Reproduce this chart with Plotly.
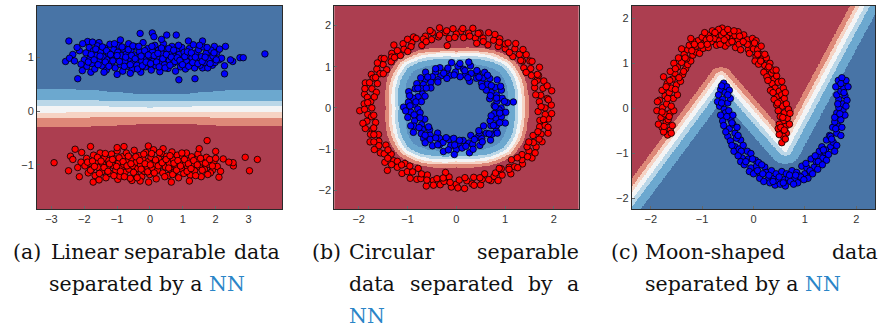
import numpy as np
import plotly.graph_objects as go

# ---------------- colours of decision-surface bands (red side -> blue side)
BAND_COLORS = ["#AC3E50", "#DE8878", "#F6D3C4", "#F3F4F5", "#BAD7E8", "#6CA8CF", "#5A8FC0", "#4874A6"]
RED_PT = "#FF0000"
BLUE_PT = "#0000FF"
LINK_BLUE = "#2A85C7"

# ---------------- panel (a): linear separable data
A_XRANGE = [-3.44, 4.02]
A_YRANGE = [-1.82, 1.95]
A_XTICKS = [-3, -2, -1, 0, 1, 2, 3]
A_YTICKS = [-1, 0, 1]
A_BOUND_X = [-3.5, -2.0, -1.0, 0.0, 1.0, 2.0, 3.0, 4.1]
A_BOUNDS = [  # band boundaries (y at A_BOUND_X), bottom (red) to top (blue)
    [-0.30, -0.29, -0.26, -0.24, -0.24, -0.26, -0.27, -0.27],
    [-0.13, -0.12, -0.11, -0.11, -0.11, -0.12, -0.12, -0.12],
    [-0.03, -0.02, -0.01, -0.01, -0.01, -0.01, -0.01, -0.01],
    [0.09, 0.09, 0.08, 0.07, 0.08, 0.09, 0.09, 0.09],
    [0.21, 0.21, 0.19, 0.18, 0.18, 0.19, 0.19, 0.19],
    [0.41, 0.40, 0.35, 0.31, 0.32, 0.37, 0.40, 0.40],
]
A_BAND_IDX = [0, 1, 2, 3, 4, 5, 7]
A_BLUE = [(-2.57,0.92),(-2.47,1.30),(-2.20,0.60),(-2.06,0.75),(-1.90,1.29),(-1.55,1.27),(-0.30,1.44),(0.07,1.45),
 (0.12,1.38),(0.51,1.41),(0.80,1.41),(1.17,1.30),(0.88,0.58),(1.37,0.60),(1.96,1.20),(2.30,1.20),(2.10,0.95),
 (2.27,0.84),(2.27,0.69),(2.52,0.92),(2.74,0.99),(2.84,0.99),(3.50,1.06),(-2.35,1.05),(-2.45,0.98),(-2.30,0.93),
 (-2.15,1.12),(-1.00,0.68),(-1.80,0.72),(2.45,0.95),(1.90,0.85),(1.75,1.05),(1.60,0.80),
 (-2.0,0.95),(-1.95,1.08),(-1.92,0.83),(-1.85,1.18),(-1.82,0.99),(-1.76,0.88),(-1.72,1.12),(-1.68,0.78),(-1.63,1.03),
 (-1.6,1.21),(-1.55,0.93),(-1.5,1.10),(-1.46,0.84),(-1.42,1.00),(-1.38,1.17),(-1.33,0.76),(-1.3,0.95),(-1.27,1.07),
 (-1.22,1.24),(-1.18,0.88),(-1.15,1.01),(-1.1,1.14),(-1.06,0.80),(-1.02,0.96),(-0.98,1.09),(-0.95,1.22),(-0.9,0.86),
 (-0.87,1.03),(-0.83,0.74),(-0.8,1.15),(-0.76,0.93),(-0.72,1.06),(-0.68,0.83),(-0.65,1.25),(-0.62,0.98),(-0.58,1.12),
 (-0.54,0.77),(-0.5,0.90),(-0.47,1.04),(-0.43,1.19),(-0.4,0.85),(-0.36,0.99),(-0.32,1.10),(-0.28,0.72),(-0.25,0.93),
 (-0.21,1.27),(-0.18,1.05),(-0.14,0.82),(-0.1,0.97),(-0.07,1.16),(-0.03,0.89),(0.0,1.02),(0.04,0.76),(0.08,1.10),
 (0.11,0.93),(0.15,1.22),(0.18,0.84),(0.22,1.00),(0.26,1.13),(0.3,0.73),(0.33,0.91),(0.37,1.06),(0.41,1.25),
 (0.44,0.86),(0.48,0.98),(0.52,1.14),(0.55,0.79),(0.59,0.94),(0.63,1.08),(0.67,1.20),(0.7,0.88),(0.74,1.02),
 (0.78,0.74),(0.81,1.12),(0.85,0.91),(0.89,1.05),(0.93,0.82),(0.97,1.18),(1.0,0.97),(1.04,1.09),(1.08,0.78),
 (1.12,0.92),(1.16,1.03),(1.2,1.16),(1.24,0.86),(1.28,0.99),(1.32,1.23),(1.36,0.80),(1.4,1.08),(1.44,0.94),
 (1.48,1.14),(1.53,0.85),(1.57,1.01),(1.62,1.19),(1.66,0.90),(1.71,1.07),(1.76,0.80),(1.8,0.97),(1.86,1.13),
 (1.92,1.02),(1.98,0.90),(2.04,1.09),(2.12,1.15),(2.18,0.98),(-2.1,0.87),(-2.22,1.18),(-2.05,1.25),(-1.4,0.72),
 (-0.6,0.70),(0.35,1.33),(-0.9,1.32),(1.6,1.30),(-1.75,1.28),
 (-1.88,0.91),(-1.79,1.05),(-1.70,0.95),(-1.65,1.15),(-1.58,0.86),(-1.52,1.02),(-1.45,1.19),(-1.36,0.91),(-1.32,1.12),
 (-1.25,0.83),(-1.2,1.05),(-1.13,0.93),(-1.08,1.25),(-1.0,1.03),(-0.93,0.92),(-0.85,1.19),(-0.78,0.83),(-0.74,1.00),
 (-0.66,1.14),(-0.6,0.86),(-0.56,1.03),(-0.52,1.21),(-0.45,0.97),(-0.38,0.78),(-0.34,1.20),(-0.27,1.02),(-0.23,0.84),
 (-0.16,1.12),(-0.12,0.91),(-0.05,1.04),(0.02,0.88),(0.06,1.20),(0.13,1.03),(0.2,0.91),(0.24,1.07),(0.28,0.82),
 (0.35,1.17),(0.39,0.97),(0.46,0.80),(0.5,1.05),(0.57,1.16),(0.61,0.85),(0.65,1.00),(0.72,1.13),(0.76,0.92),
 (0.83,0.99),(0.87,1.22),(0.91,0.94),(0.99,0.86),(1.06,1.01),(1.14,1.10),(1.18,0.83),(1.26,1.08),(1.3,0.90),
 (1.38,1.00),(1.46,0.88),(1.51,1.22),(1.59,0.92),(1.68,1.00),(1.74,1.18),(1.83,0.88),(1.95,1.08),(2.02,0.95)]
A_RED = [(-2.92,-0.96),(-2.48,-1.11),(-2.42,-0.84),(-2.28,-0.71),(-2.08,-0.77),(-1.81,-0.66),(-1.73,-1.32),(1.74,-0.55),
 (2.90,-0.86),(3.27,-0.90),(3.03,-1.11),(2.10,-1.23),(0.65,-1.32),(-0.04,-1.32),(-0.05,-0.65),(-0.79,-0.66),
 (2.54,-1.02),(2.53,-0.96),(2.23,-0.89),(-0.55,-1.29),(-0.98,-1.27),(-2.35,-0.90),(-2.2,-1.05),(-2.1,-0.95),
 (2.4,-0.95),(2.0,-0.75),(1.9,-1.1),
 (-1.98,-1.02),(-1.93,-0.88),(-1.88,-1.15),(-1.83,-0.97),(-1.78,-1.08),(-1.72,-0.82),(-1.67,-1.20),(-1.62,-0.93),
 (-1.57,-1.05),(-1.52,-0.78),(-1.47,-1.13),(-1.43,-0.99),(-1.38,-0.87),(-1.34,-1.24),(-1.3,-1.04),(-1.25,-0.92),
 (-1.21,-1.16),(-1.17,-0.80),(-1.12,-1.01),(-1.08,-0.89),(-1.04,-1.10),(-1.0,-0.74),(-0.96,-0.97),(-0.92,-1.21),
 (-0.88,-1.06),(-0.84,-0.85),(-0.8,-0.99),(-0.76,-1.14),(-0.72,-0.78),(-0.68,-0.93),(-0.64,-1.08),(-0.6,-1.25),
 (-0.56,-0.88),(-0.52,-1.02),(-0.48,-0.73),(-0.45,-1.17),(-0.41,-0.95),(-0.37,-1.07),(-0.33,-0.83),(-0.29,-1.00),
 (-0.25,-1.22),(-0.21,-0.90),(-0.17,-1.12),(-0.13,-0.77),(-0.09,-1.03),(-0.05,-0.94),(-0.01,-1.18),(0.03,-0.86),
 (0.07,-1.06),(0.11,-0.72),(0.15,-0.98),(0.19,-1.26),(0.23,-1.10),(0.27,-0.88),(0.31,-1.01),(0.35,-0.79),
 (0.39,-1.15),(0.43,-0.93),(0.47,-1.04),(0.51,-0.84),(0.55,-1.20),(0.59,-0.97),(0.63,-1.09),(0.67,-0.76),
 (0.71,-0.91),(0.75,-1.13),(0.79,-1.02),(0.83,-0.82),(0.87,-1.24),(0.91,-0.95),(0.95,-1.07),(0.99,-0.87),
 (1.03,-1.16),(1.07,-0.99),(1.11,-0.78),(1.15,-1.05),(1.19,-0.92),(1.23,-1.19),(1.27,-0.85),(1.31,-1.01),
 (1.36,-1.11),(1.41,-0.90),(1.46,-0.80),(1.51,-1.04),(1.56,-1.22),(1.61,-0.95),(1.66,-1.08),(1.72,-0.86),
 (1.78,-0.99),(1.84,-1.15),(1.95,-0.94),(2.05,-1.03),(2.15,-1.12),(-1.55,-1.28),(-0.3,-1.30),(1.2,-1.30),
 (-1.0,-0.68),(0.4,-0.70),(1.5,-0.70),(-2.15,-1.22),
 (-1.90,-0.95),(-1.81,-1.10),(-1.75,-0.93),(-1.69,-1.03),(-1.6,-0.86),(-1.54,-1.16),(-1.49,-0.93),(-1.4,-1.05),
 (-1.36,-0.79),(-1.28,-1.12),(-1.23,-0.98),(-1.14,-0.90),(-1.1,-1.20),(-1.02,-1.03),(-0.94,-0.87),(-0.9,-1.12),
 (-0.82,-0.94),(-0.78,-1.22),(-0.7,-1.02),(-0.66,-0.84),(-0.58,-0.98),(-0.5,-1.14),(-0.43,-0.85),(-0.39,-1.24),
 (-0.31,-0.92),(-0.27,-1.08),(-0.19,-0.80),(-0.15,-0.98),(-0.07,-1.13),(0.01,-1.00),(0.05,-0.79),(0.13,-1.15),
 (0.17,-0.91),(0.25,-1.02),(0.29,-0.77),(0.37,-0.96),(0.45,-1.22),(0.49,-0.90),(0.57,-1.06),(0.61,-0.83),
 (0.69,-1.18),(0.73,-0.97),(0.81,-1.10),(0.85,-0.92),(0.93,-1.02),(0.97,-0.78),(1.05,-0.90),(1.13,-1.12),
 (1.17,-0.98),(1.25,-1.07),(1.33,-0.92),(1.39,-1.20),(1.44,-1.00),(1.54,-0.88),(1.59,-1.10),(1.69,-0.97),
 (1.76,-1.18),(1.82,-0.90),(1.9,-1.02),(2.0,-0.88)]

# ---------------- panel (b): circular separable data (points as angle in degrees, radius)
B_XRANGE = [-2.5, 2.51]
B_YRANGE = [-2.45, 2.47]
B_XTICKS = [-2, -1, 0, 1, 2]
B_YTICKS = [-2, -1, 0, 1, 2]
B_R_ANG = [0, 15, 30, 45, 60, 75, 90, 105, 120, 135, 150, 165, 180, 195, 210, 225, 240, 255, 270, 285, 300, 315, 330, 345]
B_R_OUT = [1.48, 1.52, 1.60, 1.66, 1.60, 1.51, 1.45, 1.50, 1.60, 1.67, 1.60, 1.51,
           1.45, 1.50, 1.58, 1.65, 1.58, 1.49, 1.43, 1.48, 1.57, 1.64, 1.59, 1.51]
B_OFFSETS = [0.0, 0.08, 0.14, 0.21, 0.28, 0.42, 0.65]
B_RED = [(0,1.82),(2,1.95),(5,1.71),(7,1.88),(10,1.76),(12,2.00),(15,1.84),(17,1.68),(20,1.91),(22,1.79),(25,1.86),
 (27,1.73),(30,1.97),(32,1.80),(35,1.69),(37,1.89),(40,1.77),(42,1.93),(45,1.83),(47,1.70),(50,1.87),(52,1.98),
 (55,1.75),(57,1.85),(60,1.72),(62,1.90),(65,1.81),(67,1.66),(70,1.94),(72,1.78),(75,1.88),(77,1.74),(80,1.96),
 (82,1.83),(85,1.71),(87,1.86),(90,1.79),(92,1.92),(95,1.69),(97,1.84),(100,1.97),(102,1.76),(105,1.89),(107,1.73),
 (110,1.85),(112,1.80),(115,1.67),(117,1.93),(120,1.82),(122,1.75),(125,1.90),(127,1.78),(130,1.99),(132,1.71),
 (135,1.87),(137,1.81),(140,1.74),(142,1.95),(145,1.83),(147,1.70),(150,1.88),(152,1.77),(155,1.92),(157,1.85),
 (160,1.72),(162,1.96),(165,1.79),(167,1.68),(170,1.91),(172,1.84),(175,1.76),(177,1.89),(180,1.73),(182,1.98),
 (185,1.82),(187,1.75),(190,1.86),(192,1.69),(195,1.93),(197,1.80),(200,1.87),(202,1.72),(205,1.95),(207,1.78),
 (210,1.83),(212,1.70),(215,1.90),(217,1.85),(220,1.74),(222,1.97),(225,1.81),(227,1.77),(230,1.88),(232,1.71),
 (235,1.94),(237,1.84),(240,1.79),(242,1.66),(245,1.91),(247,1.86),(250,1.73),(252,1.99),(255,1.82),(257,1.76),
 (260,1.89),(262,1.80),(265,1.68),(267,1.92),(270,1.85),(272,1.75),(275,1.96),(277,1.78),(280,1.87),(282,1.72),
 (285,1.93),(287,1.81),(290,1.70),(292,1.90),(295,1.83),(297,1.77),(300,1.88),(302,1.74),(305,1.95),(307,1.80),
 (310,1.86),(312,1.69),(315,1.92),(317,1.84),(320,1.76),(322,1.97),(325,1.82),(327,1.73),(330,1.89),(332,1.79),
 (335,1.94),(337,1.71),(340,1.85),(342,1.98),(345,1.77),(347,1.87),(350,1.74),(352,1.91),(355,1.83),(357,1.68),
 (97,1.52),(75,1.62),(227,2.07),(262,1.58),
 (1,1.74),(6,1.90),(11,1.66),(16,1.94),(21,1.72),(26,1.85),(31,1.67),(36,1.92),(41,1.75),(46,1.97),(51,1.73),
 (56,1.90),(61,1.82),(66,1.95),(71,1.70),(76,1.86),(81,1.76),(86,1.93),(91,1.71),(96,1.88),(101,1.80),(106,1.95),
 (111,1.72),(116,1.87),(121,1.94),(126,1.69),(131,1.84),(136,1.76),(141,1.90),(146,1.95),(151,1.71),(156,1.81),
 (161,1.88),(166,1.93),(171,1.70),(176,1.82),(181,1.88),(186,1.70),(191,1.95),(196,1.76),(201,1.81),(206,1.88),
 (211,1.96),(216,1.73),(221,1.86),(226,1.91),(231,1.78),(236,1.70),(241,1.95),(246,1.75),(251,1.85),(256,1.93),
 (261,1.72),(266,1.81),(271,1.94),(276,1.70),(281,1.91),(286,1.76),(291,1.86),(296,1.96),(301,1.71),(306,1.84),
 (311,1.92),(316,1.74),(321,1.88),(326,1.95),(331,1.70),(336,1.86),(341,1.77),(346,1.94),(351,1.81),(356,1.96)]
B_BLUE = [(0,0.92),(4,0.78),(7,1.05),(11,0.85),(14,0.97),(18,0.72),(21,0.88),(25,1.02),(28,0.81),(32,0.94),(35,0.75),
 (39,1.08),(42,0.86),(46,0.99),(49,0.79),(53,0.91),(56,1.04),(60,0.83),(63,0.96),(67,0.70),(70,0.89),(74,1.06),
 (77,0.82),(81,0.95),(84,0.76),(88,1.01),(91,0.87),(95,1.10),(98,0.80),(102,0.93),(105,0.74),(109,1.03),(112,0.84),
 (116,0.97),(119,0.78),(123,0.90),(126,1.07),(130,0.81),(133,0.94),(137,0.71),(140,0.88),(144,1.00),(147,0.85),
 (151,0.96),(154,0.77),(158,1.05),(161,0.83),(165,0.92),(168,0.73),(172,0.99),(175,0.86),(179,1.08),(182,0.79),
 (186,0.94),(189,0.75),(193,1.02),(196,0.84),(200,0.91),(203,0.70),(207,0.97),(210,0.82),(214,1.06),(217,0.87),
 (221,0.95),(224,0.76),(228,1.00),(231,0.85),(235,0.93),(238,0.72),(242,1.04),(245,0.81),(249,0.96),(252,0.88),
 (256,1.09),(259,0.78),(263,0.92),(266,0.74),(270,1.01),(273,0.86),(277,0.98),(280,0.80),(284,1.12),(287,0.89),
 (291,0.94),(294,0.73),(298,1.03),(301,0.84),(305,0.91),(308,0.77),(312,1.05),(315,0.87),(319,0.97),(322,0.71),
 (326,0.99),(329,0.83),(333,0.93),(336,0.76),(340,1.07),(343,0.85),(347,0.95),(350,0.79),(354,1.02),(357,0.88),
 (7,1.18),(77,1.14),(268,1.13),
 (2,0.80),(9,1.00),(16,0.86),(23,0.76),(30,1.05),(37,0.90),(44,0.74),(51,1.02),(58,0.88),(65,1.00),(72,0.77),
 (79,0.92),(86,1.08),(93,0.80),(100,0.98),(107,0.88),(114,1.04),(121,0.73),(128,0.95),(135,1.03),(142,0.78),
 (149,0.92),(156,0.70),(163,1.00),(170,0.84),(177,0.95),(184,1.04),(191,0.88),(198,0.78),(205,1.03),(212,0.90),
 (219,0.73),(226,0.92),(233,1.06),(240,0.84),(247,0.97),(254,0.75),(261,1.03),(268,0.90),(275,0.79),(282,0.95),
 (289,1.06),(296,0.85),(303,0.98),(310,0.72),(317,0.92),(324,1.04),(331,0.87),(338,0.96),(345,0.74),(352,0.90)]

# ---------------- panel (c): moon-shaped data
C_XRANGE = [-2.37, 2.37]
C_YRANGE = [-2.23, 2.27]
C_XTICKS = [-2, -1, 0, 1, 2]
C_YTICKS = [-2, -1, 0, 1, 2]
C_LINE_X = [-3.0, -0.63, 0.62, 2.6]      # centre line of the white band
C_LINE_Y = [-2.91, 0.70, -0.92, 3.28]
C_OFFSETS = [0.22, 0.12, 0.05, -0.04, -0.13, -0.30]
C_BAND_IDX = [0, 1, 2, 3, 4, 5, 7]
C_RED = [(-1.67,-0.59),(-1.78,-0.42),(-1.62,-0.48),(-1.70,-0.30),(-1.85,-0.35),(-1.60,-0.55),(-1.75,-0.52),
 (-1.80,-0.20),(-1.66,-0.25),(-1.58,-0.38),(-1.73,-0.12),(-1.88,-0.05),
 (-1.62,-0.10),(-1.77,0.02),(-1.55,-0.05),(-1.69,0.10),(-1.83,0.18),(-1.60,0.05),(-1.87,0.15),
 (-1.72,0.28),(-1.56,0.22),(-1.64,0.35),(-1.48,0.30),(-1.78,0.40),(-1.60,0.45),
 (-1.68,0.55),(-1.50,0.52),(-1.58,0.65),(-1.42,0.60),(-1.75,0.70),(-1.53,0.78),(-1.62,0.82),
 (-1.38,0.75),(-1.48,0.92),(-1.32,0.88),(-1.55,1.00),(-1.40,1.02),(-1.28,0.97),(-1.46,1.12),
 (-1.22,1.05),(-1.35,1.20),(-1.18,1.18),(-1.28,1.30),(-1.12,1.25),(-1.40,1.32),(-1.25,1.40),
 (-1.05,1.22),(-1.12,1.38),(-0.98,1.33),(-1.08,1.50),(-0.95,1.45),(-1.18,1.48),(-1.00,1.58),
 (-0.88,1.35),(-0.92,1.52),(-0.82,1.48),(-0.87,1.62),(-0.78,1.58),(-0.95,1.68),(-0.80,1.72),
 (-0.72,1.40),(-0.75,1.55),(-0.66,1.50),(-0.70,1.65),(-0.62,1.62),(-0.61,1.78),(-0.68,1.75),
 (-0.55,1.38),(-0.52,1.58),(-0.48,1.45),(-0.45,1.68),(-0.58,1.68),(-0.40,1.55),(-0.50,1.75),
 (-0.35,1.35),(-0.30,1.52),(-0.28,1.42),(-0.36,1.62),(-0.22,1.58),(-0.19,1.63),(-0.25,1.30),
 (-0.15,1.45),(-0.10,1.30),(-0.12,1.52),(-0.05,1.40),(-0.02,1.55),(-0.08,1.22),(0.00,1.32),
 (0.05,1.15),(0.08,1.30),(0.12,1.20),(0.03,1.05),(0.15,1.38),(0.18,1.10),(0.10,0.98),
 (0.22,0.95),(0.25,1.12),(0.28,0.88),(0.20,0.80),(0.32,1.00),(0.35,0.78),(0.26,0.70),
 (0.38,0.85),(0.40,0.65),(0.36,0.55),(0.45,0.72),(0.42,0.45),(0.48,0.58),(0.33,0.40),
 (0.50,0.38),(0.46,0.25),(0.55,0.30),(0.52,0.15),(0.40,0.20),(0.58,0.45),(0.60,0.22),
 (0.56,0.05),(0.48,-0.05),(0.64,0.10),(0.60,-0.10),(0.52,-0.18),(0.68,-0.02),(0.45,0.08),
 (0.58,-0.28),(0.50,-0.35),(0.66,-0.22),(0.62,-0.40),(0.71,-0.11),(0.55,-0.50),(0.64,-0.55),
 (0.58,-0.62),(0.50,-0.58),(0.55,-0.76),(0.62,-0.68),(0.48,-0.45),(-1.22,1.55),(-0.30,1.70),(0.05,1.50),
 (-1.74,-0.40),(-1.64,-0.18),(-1.78,-0.08),(-1.67,0.22),(-1.52,0.42),(-1.70,0.48),(-1.45,0.68),(-1.63,0.62),
 (-1.36,0.82),(-1.52,0.88),(-1.30,1.10),(-1.20,1.28),(-1.33,1.12),(-1.15,1.42),(-1.02,1.40),(-0.90,1.42),
 (-0.85,1.55),(-0.75,1.68),(-0.65,1.42),(-0.57,1.52),(-0.42,1.48),(-0.38,1.72),(-0.27,1.60),(-0.12,1.42),
 (-0.20,1.48),(0.02,1.45),(0.08,1.20),(0.14,1.05),(0.22,1.20),(0.30,0.92),(0.28,0.62),(0.44,0.85),
 (0.38,0.35),(0.55,0.60),(0.47,0.12),(0.62,0.35),(0.57,-0.20),(0.70,-0.35),(0.53,-0.42),(0.60,-0.48)]
C_BLUE = [(-0.58,0.56),(-0.52,0.48),(-0.64,0.42),(-0.55,0.35),(-0.68,0.30),(-0.47,0.40),
 (-0.60,0.20),(-0.50,0.12),(-0.66,0.05),(-0.57,-0.02),(-0.45,0.22),(-0.70,0.15),
 (-0.55,-0.10),(-0.44,-0.25),(-0.60,-0.28),(-0.48,-0.05),(-0.40,-0.15),(-0.58,-0.38),
 (-0.47,-0.45),(-0.36,-0.55),(-0.50,-0.62),(-0.40,-0.35),(-0.32,-0.42),(-0.45,-0.72),
 (-0.36,-0.85),(-0.25,-0.70),(-0.38,-0.95),(-0.28,-0.90),(-0.20,-0.82),(-0.33,-0.66),
 (-0.22,-1.10),(-0.12,-0.95),(-0.25,-1.18),(-0.10,-1.12),(-0.05,-1.00),(-0.18,-1.25),
 (-0.05,-1.32),(0.04,-1.15),(-0.08,-1.40),(0.06,-1.28),(0.10,-1.20),(0.00,-1.45),
 (0.14,-1.48),(0.22,-1.30),(0.12,-1.55),(0.25,-1.42),(0.28,-1.58),(0.20,-1.62),
 (0.35,-1.38),(0.40,-1.55),(0.32,-1.65),(0.44,-1.45),(0.42,-1.70),(0.48,-1.60),
 (0.55,-1.40),(0.60,-1.58),(0.52,-1.68),(0.64,-1.45),(0.62,-1.72),(0.68,-1.55),
 (0.75,-1.38),(0.80,-1.56),(0.72,-1.62),(0.84,-1.42),(0.86,-1.65),(0.90,-1.50),
 (0.94,-1.28),(1.00,-1.45),(0.92,-1.52),(1.04,-1.32),(1.06,-1.55),(1.10,-1.40),
 (1.12,-1.12),(1.18,-1.30),(1.10,-1.38),(1.22,-1.18),(1.25,-1.35),(1.28,-1.05),
 (1.28,-0.95),(1.35,-1.10),(1.26,-1.18),(1.40,-0.98),(1.42,-1.15),(1.33,-0.85),
 (1.42,-0.70),(1.50,-0.85),(1.40,-0.92),(1.55,-0.75),(1.48,-0.60),(1.58,-0.95),
 (1.54,-0.42),(1.62,-0.55),(1.50,-0.62),(1.66,-0.40),(1.58,-0.30),(1.70,-0.60),
 (1.62,-0.10),(1.70,-0.25),(1.58,-0.20),(1.74,-0.05),(1.66,0.02),(1.78,-0.15),
 (1.66,0.20),(1.74,0.10),(1.62,0.30),(1.78,0.28),(1.70,0.38),(1.82,0.18),
 (1.68,0.55),(1.76,0.45),(1.65,0.62),(1.80,0.62),(1.72,0.68),(1.60,0.48),
 (-0.62,0.50),(-0.50,0.30),(-0.62,0.12),(-0.52,-0.18),(-0.64,-0.15),(-0.42,-0.32),(-0.54,-0.52),(-0.30,-0.60),
 (-0.42,-0.82),(-0.24,-0.95),(-0.30,-1.05),(-0.15,-1.18),(-0.02,-1.12),(0.08,-1.38),(0.16,-1.25),(0.30,-1.48),
 (0.18,-1.45),(0.38,-1.62),(0.50,-1.52),(0.58,-1.65),(0.70,-1.48),(0.78,-1.68),(0.82,-1.48),(0.98,-1.58),
 (1.02,-1.22),(1.15,-1.45),(1.20,-1.05),(1.34,-1.25),(1.36,-0.92),(1.46,-1.02),(1.52,-0.68),(1.62,-0.82),
 (1.60,-0.45),(1.72,-0.42),(1.68,-0.12),(1.80,0.05),(1.64,0.10),(1.76,0.35),(1.70,0.55),(1.84,0.48)]

# ---------------- captions: (text, left/right pixel, centre-y pixel, anchor)
CAPTION_SIZE = 20.5
CAPTIONS = [
    ("(a)", 12, 252, "left"), ("Linear", 49.5, 252, "left"), ("separable", 123, 252, "left"), ("data", 281, 252, "right"),
    ("separated by a <span style='color:%s'>NN</span>" % LINK_BLUE, 48, 284, "left"),
    ("(b)", 310.5, 252, "left"), ("Circular", 347.5, 252, "left"), ("separable", 580, 252, "right"),
    ("data", 347.5, 284, "left"), ("separated", 408.5, 284, "left"), ("by", 527, 284, "left"), ("a", 580, 284, "right"),
    ("<span style='color:%s'>NN</span>" % LINK_BLUE, 347.5, 316, "left"),
    ("(c)", 610, 252, "left"), ("Moon-shaped", 643.5, 252, "left"), ("data", 878.5, 252, "right"),
    ("separated by a <span style='color:%s'>NN</span>" % LINK_BLUE, 644, 284, "left"),
]

W, H = 881, 329
PANEL_PX = [(37, 282), (334.3, 578.7), (631.7, 875.3)]
PANEL_PY = (6, 209)


def grid(xr, yr, nx=380, ny=320):
    gx = np.linspace(xr[0], xr[1], nx)
    gy = np.linspace(yr[0], yr[1], ny)
    X, Y = np.meshgrid(gx, gy)
    return gx, gy, X, Y


def bands_a():
    gx, gy, X, Y = grid(A_XRANGE, A_YRANGE)
    cnt = np.zeros(X.shape, dtype=int)
    for b in A_BOUNDS:
        cnt += (Y > np.interp(X, A_BOUND_X, b)).astype(int)
    return gx, gy, np.array(A_BAND_IDX)[cnt]


def bands_b():
    gx, gy, X, Y = grid(B_XRANGE, B_YRANGE)
    ang = np.degrees(np.arctan2(Y, X)) % 360
    rho = np.hypot(X, Y)
    rout = np.interp(ang, B_R_ANG, B_R_OUT, period=360)
    cnt = np.zeros(X.shape, dtype=int)
    for off in B_OFFSETS:
        cnt += (rho < rout - off).astype(int)
    return gx, gy, cnt


def bands_c():
    gx, gy, X, Y = grid(C_XRANGE, C_YRANGE)
    d = np.full(X.shape, np.inf)
    for i in range(len(C_LINE_X) - 1):
        ax, ay = C_LINE_X[i], C_LINE_Y[i]
        dx, dy = C_LINE_X[i + 1] - ax, C_LINE_Y[i + 1] - ay
        t = np.clip(((X - ax) * dx + (Y - ay) * dy) / (dx * dx + dy * dy), 0, 1)
        d = np.minimum(d, np.hypot(X - ax - t * dx, Y - ay - t * dy))
    sd = np.where(Y > np.interp(X, C_LINE_X, C_LINE_Y), d, -d)
    cnt = np.zeros(X.shape, dtype=int)
    for off in C_OFFSETS:
        cnt += (sd < off).astype(int)
    return gx, gy, np.array(C_BAND_IDX)[cnt]


n = len(BAND_COLORS)
colorscale = []
for k, c in enumerate(BAND_COLORS):
    colorscale.append([k / n, c])
    colorscale.append([(k + 1) / n, c])

fig = go.Figure()


def add_panel(i, bands, pts_red, pts_blue):
    ax = "" if i == 0 else str(i + 1)
    gx, gy, z = bands
    fig.add_trace(go.Heatmap(x=gx, y=gy, z=z, colorscale=colorscale, zmin=-0.5, zmax=n - 0.5,
                             showscale=False, hoverinfo="skip", xaxis="x" + ax, yaxis="y" + ax))
    for pts, col in ((pts_red, RED_PT), (pts_blue, BLUE_PT)):
        xs = [p[0] for p in pts]
        ys = [p[1] for p in pts]
        fig.add_trace(go.Scatter(x=xs, y=ys, mode="markers", xaxis="x" + ax, yaxis="y" + ax,
                                 marker=dict(size=6.5, color=col, line=dict(color="black", width=0.8)),
                                 showlegend=False, hoverinfo="skip"))


def polar(pts):
    return [(r * np.cos(np.radians(a)), r * np.sin(np.radians(a))) for a, r in pts]


add_panel(0, bands_a(), A_RED, A_BLUE)
add_panel(1, bands_b(), polar(B_RED), polar(B_BLUE))
add_panel(2, bands_c(), C_RED, C_BLUE)

tickfont = dict(family="Liberation Sans, Arial, sans-serif", size=11, color="#333333")
axis_common = dict(showgrid=False, zeroline=False, ticks="inside", ticklen=3, tickwidth=0.6,
                   tickcolor="#666666", showline=True, mirror=True, linecolor="#2a2a2a", linewidth=1,
                   tickfont=tickfont, fixedrange=True)

ranges = [(A_XRANGE, A_YRANGE, A_XTICKS, A_YTICKS), (B_XRANGE, B_YRANGE, B_XTICKS, B_YTICKS),
          (C_XRANGE, C_YRANGE, C_XTICKS, C_YTICKS)]
layout = {}
for i, ((xr, yr, xt, yt), (px0, px1)) in enumerate(zip(ranges, PANEL_PX)):
    ax = "" if i == 0 else str(i + 1)
    layout["xaxis" + ax] = dict(axis_common, range=xr, tickvals=xt, domain=[px0 / W, px1 / W],
                                anchor="y" + ax)
    layout["yaxis" + ax] = dict(axis_common, range=yr, tickvals=yt,
                                domain=[1 - PANEL_PY[1] / H, 1 - PANEL_PY[0] / H], anchor="x" + ax)

annotations = []
for text, px, py, anchor in CAPTIONS:
    annotations.append(dict(text=text, x=px / W, y=1 - py / H, xref="paper", yref="paper",
                            xanchor=anchor, yanchor="middle", showarrow=False, borderpad=0,
                            font=dict(family="DejaVu Serif, serif", size=CAPTION_SIZE, color="#111111")))

fig.update_layout(width=W, height=H, margin=dict(l=0, r=0, t=0, b=0), paper_bgcolor="white",
                  plot_bgcolor="white", showlegend=False, annotations=annotations, **layout)

fig.write_html("out.html")
